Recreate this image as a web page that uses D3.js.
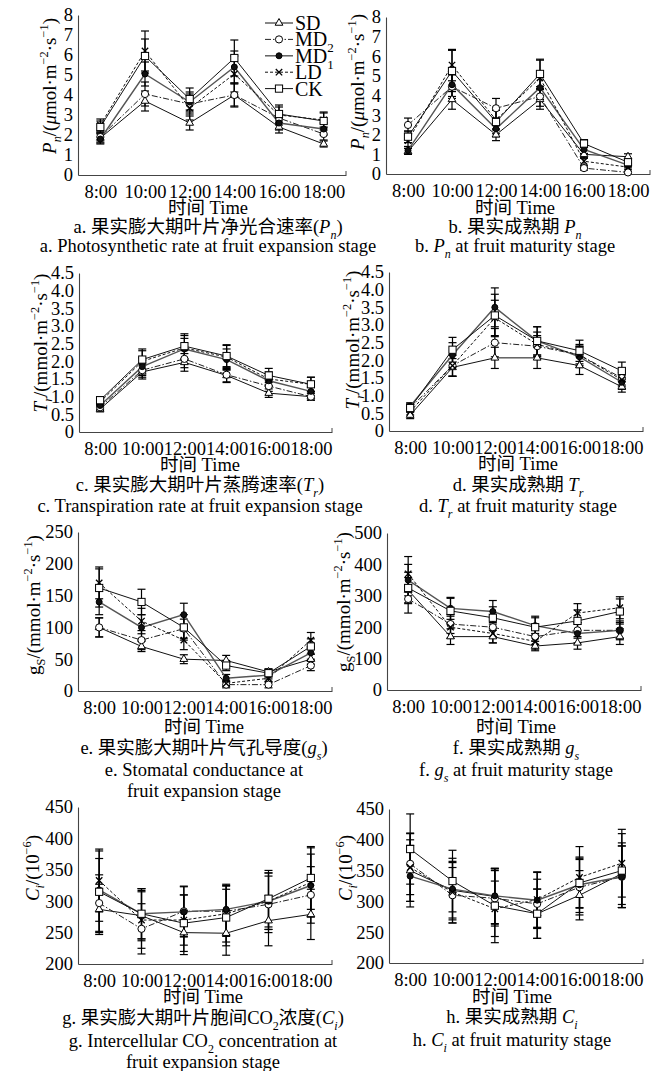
<!DOCTYPE html>
<html><head><meta charset="utf-8">
<script src="https://cdn.jsdelivr.net/npm/d3@7"></script>
<style>
body{margin:0;background:#fff}
svg{display:block}
text{font-family:"Liberation Serif","Times New Roman","Noto Sans CJK SC",serif;fill:#000}
</style>
</head><body>
<svg id="chart" width="663" height="1071"></svg>
<script>
// ---------- data ----------
const times = ["8:00","10:00","12:00","14:00","16:00","18:00"];
const seriesNames = ["SD","MD2","MD1","LD","CK"];

const ticksPn = [0,1,2,3,4,5,6,7,8];
const ticksTr = [0,0.5,1.0,1.5,2.0,2.5,3.0,3.5,4.0,4.5];
const ticksGsExp = [0,50,100,150,200,250];
const ticksGsMat = [0,100,200,300,400,500];
const ticksCi = [200,250,300,350,400,450];

// a. Pn, fruit expansion  (rows: SD, MD2, MD1, LD, CK)
const pnExpansion = [
  [1.85,3.7,2.6,4.0,2.4,1.55],
  [1.9,4.05,3.55,4.0,2.85,2.05],
  [1.8,5.05,3.65,5.4,2.6,2.3],
  [2.5,6.2,3.35,5.05,3.0,2.75],
  [2.4,5.95,3.8,5.85,3.05,2.7]];
const pnExpansionErr = [
  [0.25,0.5,0.35,0.55,0.3,0.15],
  [0.25,0.6,0.5,0.6,0.35,0.3],
  [0.25,0.6,0.5,0.8,0.35,0.3],
  [0.3,1.0,0.6,0.9,0.4,0.35],
  [0.3,0.85,0.55,0.9,0.45,0.45]];
// b. Pn, fruit maturity
const pnMaturity = [
  [1.15,3.8,2.0,3.8,1.0,0.88],
  [2.5,4.45,3.35,3.95,0.3,0.08],
  [1.2,4.55,2.3,4.4,1.25,0.45],
  [1.7,5.55,2.75,4.9,0.65,0.35],
  [1.9,5.25,2.65,5.1,1.55,0.6]];
const pnMaturityErr = [
  [0.15,0.5,0.3,0.5,0.2,0.15],
  [0.35,0.6,0.5,0.5,0.1,0.05],
  [0.2,0.6,0.4,0.6,0.2,0.1],
  [0.3,0.8,0.5,0.9,0.2,0.1],
  [0.3,1.05,0.6,0.75,0.2,0.2]];
// c. Tr, fruit expansion
const trExpansion = [
  [0.65,1.7,1.97,1.6,1.1,1.0],
  [0.7,1.75,2.07,1.62,1.3,1.0],
  [0.75,1.85,2.35,2.05,1.45,1.15],
  [0.85,2.0,2.38,2.12,1.5,1.35],
  [0.9,2.05,2.43,2.15,1.6,1.35]];
const trExpansionErr = [
  [0.08,0.2,0.25,0.2,0.12,0.1],
  [0.08,0.2,0.25,0.2,0.15,0.1],
  [0.1,0.25,0.3,0.3,0.15,0.12],
  [0.1,0.3,0.35,0.35,0.2,0.2],
  [0.1,0.3,0.35,0.3,0.2,0.2]];
// d. Tr, fruit maturity
const trMaturity = [
  [0.45,1.8,2.07,2.07,1.85,1.25],
  [0.65,1.85,2.5,2.4,2.15,1.5],
  [0.7,2.15,3.5,2.55,2.1,1.38],
  [0.55,1.85,3.2,2.45,2.15,1.45],
  [0.65,2.3,3.27,2.55,2.27,1.7]];
const trMaturityErr = [
  [0.1,0.25,0.3,0.3,0.25,0.15],
  [0.1,0.3,0.4,0.3,0.25,0.2],
  [0.1,0.35,0.55,0.4,0.3,0.2],
  [0.1,0.3,0.5,0.35,0.3,0.2],
  [0.12,0.35,0.6,0.4,0.3,0.25]];
// e. gs, fruit expansion
const gsExpansion = [
  [100,70,50,48,30,50],
  [100,80,98,10,10,40],
  [140,100,120,20,25,60],
  [170,110,80,12,20,80],
  [162,140,100,40,28,70]];
const gsExpansionErr = [
  [15,8,7,8,5,8],
  [15,15,15,5,5,8],
  [20,20,18,6,6,10],
  [25,20,15,5,6,12],
  [30,20,20,8,6,12]];
// f. gs, fruit maturity
const gsMaturity = [
  [318,170,170,140,150,170],
  [290,210,200,170,190,190],
  [350,260,250,205,180,190],
  [370,200,180,155,245,262],
  [325,252,230,200,220,250]];
const gsMaturityErr = [
  [40,25,20,15,20,25],
  [45,30,30,25,25,25],
  [50,35,35,30,30,30],
  [55,35,30,25,30,35],
  [50,40,35,30,35,40]];
// g. Ci, fruit expansion
const ciExpansion = [
  [287,277,250,249,269,279],
  [297,256,284,284,295,310],
  [318,280,283,287,300,325],
  [333,270,270,280,300,330],
  [315,280,265,274,304,337]];
const ciExpansionErr = [
  [40,40,35,35,40,40],
  [45,40,40,40,45,45],
  [50,40,40,40,45,50],
  [50,45,40,45,45,55],
  [65,40,45,45,45,50]];
// h. Ci, fruit maturity
const ciMaturity = [
  [350,318,308,280,310,345],
  [361,310,305,296,323,340],
  [341,320,309,302,327,340],
  [355,315,288,303,339,362],
  [385,333,293,280,330,350]];
const ciMaturityErr = [
  [50,45,45,40,40,50],
  [50,45,45,40,45,50],
  [50,50,45,45,45,50],
  [55,50,45,45,50,55],
  [57,50,60,40,40,60]];

// ---------- text parts ----------
const I = (t)=>({t,i:true});
const Sb = (t,i=true)=>({t,i,sub:true});
const Sp = (t)=>({t,sup:true});
const T = (t)=>({t});

const yLabelPn = [I("P"),Sb("n"),T("/("),I("μ"),T("mol·m"),Sp("−2"),T("·s"),Sp("−1"),T(")")];
const yLabelTr = [I("T"),Sb("r"),T("/(mmol·m"),Sp("−2"),T("·s"),Sp("−1"),T(")")];
const yLabelGs = [T("g"),Sb("S",false),T("/(mmol·m"),Sp("−2"),T("·s"),Sp("−1"),T(")")];
const yLabelCi = [I("C"),Sb("i"),T("/(10"),Sp("−6"),T(")")];

// ---------- layout ----------
const panels = [
 {v:pnExpansion,e:pnExpansionErr,ticks:ticksPn,dom:[0,8],x0:78,x1:346,yt:15,yb:175,
  yl:yLabelPn,ylx:49,yly:86,cx:208,
  lines:[{y:208,p:[T("时间 Time")]},
         {y:227,p:[T("a. 果实膨大期叶片净光合速率("),I("P"),Sb("n"),T(")")]},
         {y:246,p:[T("a. Photosynthetic rate at fruit expansion stage")]}]},
 {v:pnMaturity,e:pnMaturityErr,ticks:ticksPn,dom:[0,8],x0:386,x1:650,yt:17,yb:174,
  yl:yLabelPn,ylx:357,yly:82,cx:515,
  lines:[{y:208,p:[T("时间 Time")]},
         {y:227,p:[T("b. 果实成熟期 "),I("P"),Sb("n")]},
         {y:246,p:[T("b. "),I("P"),Sb("n"),T(" at fruit maturity stage")]}]},
 {v:trExpansion,e:trExpansionErr,ticks:ticksTr,dom:[0,4.5],x0:79,x1:332,yt:273,yb:432,
  yl:yLabelTr,ylx:40,yly:343,cx:200,
  lines:[{y:465,p:[T("时间 Time")]},
         {y:485,p:[T("c. 果实膨大期叶片蒸腾速率("),I("T"),Sb("r"),T(")")]},
         {y:506,p:[T("c. Transpiration rate at fruit expansion stage")]}]},
 {v:trMaturity,e:trMaturityErr,ticks:ticksTr,dom:[0,4.5],x0:389,x1:643,yt:272,yb:431,
  yl:yLabelTr,ylx:352,yly:340,cx:518,
  lines:[{y:464,p:[T("时间 Time")]},
         {y:485,p:[T("d. 果实成熟期 "),I("T"),Sb("r")]},
         {y:506,p:[T("d. "),I("T"),Sb("r"),T(" at fruit maturity stage")]}]},
 {v:gsExpansion,e:gsExpansionErr,ticks:ticksGsExp,dom:[0,250],x0:78,x1:332,yt:532,yb:691,
  yl:yLabelGs,ylx:33,yly:605,cx:204,
  lines:[{y:727,p:[T("时间 Time")]},
         {y:748,p:[T("e. 果实膨大期叶片气孔导度("),I("g"),Sb("s"),T(")")]},
         {y:770,p:[T("e. Stomatal conductance at")]},
         {y:791,p:[T("fruit expansion stage")]}]},
 {v:gsMaturity,e:gsMaturityErr,ticks:ticksGsMat,dom:[0,500],x0:387,x1:641,yt:533,yb:690,
  yl:yLabelGs,ylx:343,yly:602,cx:516,
  lines:[{y:727,p:[T("时间 Time")]},
         {y:748,p:[T("f. 果实成熟期 "),I("g"),Sb("s")]},
         {y:770,p:[T("f. "),I("g"),Sb("s"),T(" at fruit maturity stage")]}]},
 {v:ciExpansion,e:ciExpansionErr,ticks:ticksCi,dom:[200,450],x0:78,x1:332,yt:807,yb:964,
  yl:yLabelCi,ylx:32,yly:868,cx:203,
  lines:[{y:997,p:[T("时间 Time")]},
         {y:1018,p:[T("g. 果实膨大期叶片胞间CO"),Sb("2",false),T("浓度("),I("C"),Sb("i"),T(")")]},
         {y:1041,p:[T("g. Intercellular CO"),Sb("2",false),T(" concentration at")]},
         {y:1062,p:[T("fruit expansion stage")]}]},
 {v:ciMaturity,e:ciMaturityErr,ticks:ticksCi,dom:[200,450],x0:389,x1:643,yt:809,yb:963,
  yl:yLabelCi,ylx:345,yly:868,cx:512,
  lines:[{y:997,p:[T("时间 Time")]},
         {y:1017,p:[T("h. 果实成熟期 "),I("C"),Sb("i")]},
         {y:1040,p:[T("h. "),I("C"),Sb("i"),T(" at fruit maturity stage")]}]}
];

const lineStyle = {
  SD:{dash:null,color:"#111",w:1},
  MD2:{dash:"6,2,1.5,2",color:"#222",w:1},
  MD1:{dash:null,color:"#555",w:1.4},
  LD:{dash:"3,2",color:"#111",w:1},
  CK:{dash:null,color:"#111",w:1}
};

const svg = d3.select("#chart");

function addRich(sel, parts, fs){
  let shift = 0;
  parts.forEach(p=>{
    const ts = sel.append("tspan").text(p.t);
    if (p.i) ts.attr("font-style","italic");
    const target = p.sub ? fs*0.3 : (p.sup ? -fs*0.42 : 0);
    if (target !== shift){ ts.attr("dy", target-shift); shift = target; }
    if (p.sub || p.sup) ts.attr("font-size", fs*0.65);
  });
}

function drawMarker(g, name, x, y){
  const s = "#000";
  if (name==="SD"){
    g.append("path").attr("d",d3.symbol(d3.symbolTriangle,26)()).attr("transform",`translate(${x},${y})`)
     .attr("fill","#fff").attr("stroke",s).attr("stroke-width",1);
  } else if (name==="MD2"){
    g.append("circle").attr("cx",x).attr("cy",y).attr("r",3.6).attr("fill","#fff").attr("stroke",s).attr("stroke-width",1);
  } else if (name==="MD1"){
    g.append("circle").attr("cx",x).attr("cy",y).attr("r",3).attr("fill","#111").attr("stroke",s);
  } else if (name==="LD"){
    g.append("path").attr("d",`M${x-3.2},${y-3.2}L${x+3.2},${y+3.2}M${x-3.2},${y+3.2}L${x+3.2},${y-3.2}`)
     .attr("stroke",s).attr("stroke-width",1.3);
  } else {
    g.append("rect").attr("x",x-3.6).attr("y",y-3.6).attr("width",7.2).attr("height",7.2)
     .attr("fill","#fff").attr("stroke",s).attr("stroke-width",1);
  }
}

panels.forEach((P, pi)=>{
  const x = d3.scalePoint().domain(times).range([P.x0,P.x1]).padding(0.5);
  const y = d3.scaleLinear().domain(P.dom).range([P.yb,P.yt]);
  const g = svg.append("g");

  // axes
  const ya = g.append("g").attr("transform",`translate(${P.x0},0)`)
    .call(d3.axisLeft(y).tickValues(P.ticks).tickSizeInner(0).tickSizeOuter(0).tickPadding(5)
      .tickFormat(d => (P.dom[1]===4.5 && d!==0) ? d.toFixed(1) : String(d)));
  const xa = g.append("g").attr("transform",`translate(0,${P.yb})`)
    .call(d3.axisBottom(x).tickSizeInner(0).tickSizeOuter(0).tickPadding(8));
  [ya,xa].forEach(a=>{
    a.select(".domain").attr("stroke","#444").attr("stroke-width",1.1);
    a.selectAll("text").attr("font-size",18.5).attr("font-family","Liberation Serif").attr("fill","#000");
  });
  xa.selectAll("text").attr("dy","0.82em");
  g.append("line").attr("x1",P.x1).attr("x2",P.x1).attr("y1",P.yb).attr("y2",P.yb-4).attr("stroke","#444");

  // y label
  const yl = g.append("text").attr("transform",`translate(${P.ylx},${P.yly}) rotate(-90)`)
    .attr("text-anchor","middle").attr("dy","0.35em").attr("font-size",19);
  addRich(yl, P.yl, 19);

  // captions
  P.lines.forEach(L=>{
    const t = g.append("text").attr("x",P.cx).attr("y",L.y).attr("dy","0.35em")
      .attr("text-anchor","middle").attr("font-size",18.5);
    addRich(t, L.p, 18.5);
  });

  // error bars
  seriesNames.forEach((name, si)=>{
    const eg = g.append("g").attr("stroke","#000").attr("stroke-width",1.2);
    times.forEach((tm, k)=>{
      const cx = x(tm), v = P.v[si][k], e = P.e[si][k];
      const yT = y(v+e), yB = y(Math.max(P.dom[0], v-e));
      eg.append("line").attr("x1",cx).attr("x2",cx).attr("y1",yT).attr("y2",yB);
      eg.append("line").attr("x1",cx-4).attr("x2",cx+4).attr("y1",yT).attr("y2",yT);
      eg.append("line").attr("x1",cx-4).attr("x2",cx+4).attr("y1",yB).attr("y2",yB);
    });
  });
  // lines
  seriesNames.forEach((name, si)=>{
    const st = lineStyle[name];
    const line = d3.line().x((d,k)=>x(times[k])).y(d=>y(d));
    g.append("path").datum(P.v[si]).attr("d",line).attr("fill","none")
      .attr("stroke",st.color).attr("stroke-width",st.w).attr("stroke-dasharray",st.dash);
  });
  // markers
  seriesNames.forEach((name, si)=>{
    const mg = g.append("g");
    P.v[si].forEach((v,k)=>drawMarker(mg, name, x(times[k]), y(v)));
  });

  // legend (panel a only)
  if (pi===0){
    const lg = g.append("g");
    seriesNames.forEach((name, si)=>{
      const st = lineStyle[name];
      const ly = 23 + si*16.4;
      lg.append("line").attr("x1",265).attr("x2",293).attr("y1",ly).attr("y2",ly)
        .attr("stroke",st.color).attr("stroke-width",st.w).attr("stroke-dasharray",st.dash);
      drawMarker(lg, name, 279, ly);
      const t = lg.append("text").attr("x",295).attr("y",ly).attr("dy","0.35em").attr("font-size",20);
      const parts = name==="MD2" ? [T("MD"),{t:"2",sub:true}] : name==="MD1" ? [T("MD"),{t:"1",sub:true}] : [T(name)];
      addRich(t, parts, 20);
    });
  }
});
</script>
</body></html>
